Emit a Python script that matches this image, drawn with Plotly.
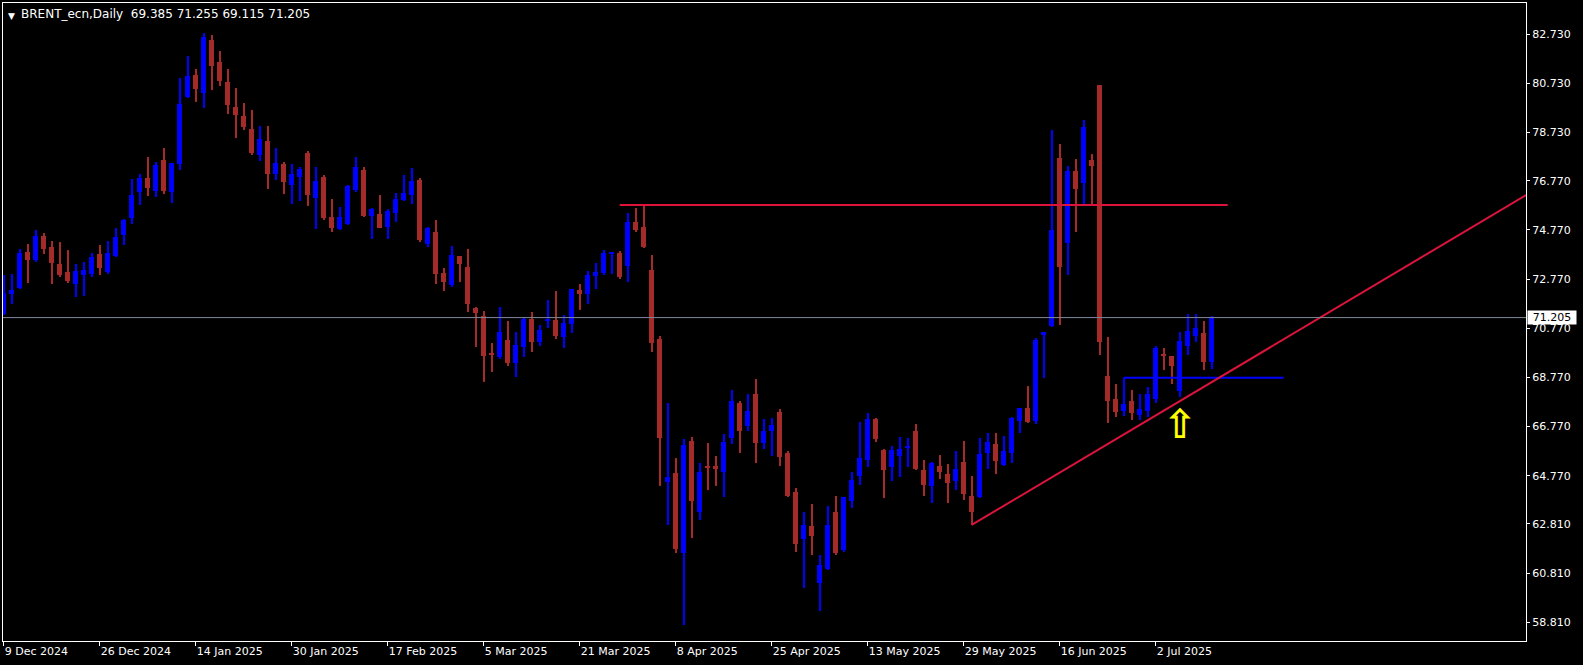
import plotly.graph_objects as go

# ---------------- data ----------------
opens = [71.35, 72.18, 72.42, 73.87, 73.56, 74.52, 74.08, 73.39, 73.06, 72.59,
         72.94, 72.99, 73.79, 73.07, 73.72, 74.58, 75.27, 76.33, 76.88, 76.37,
         77.62, 76.33, 77.47, 80.19, 81.07, 80.33, 82.50, 81.60, 80.79, 79.77,
         79.41, 78.88, 77.83, 78.39, 77.06, 77.45, 76.61, 76.94, 77.90, 76.08,
         76.93, 75.30, 74.81, 75.03, 76.41, 77.21, 75.35, 75.42, 74.90, 75.47,
         76.00, 76.19, 76.80, 74.21, 74.69, 73.02, 72.54, 73.71, 73.26, 71.61,
         71.27, 69.74, 69.62, 70.29, 69.37, 70.02, 71.15, 70.23, 71.07, 71.11,
         70.43, 70.96, 72.33, 72.18, 72.91, 73.03, 73.81, 73.83, 73.32, 75.09,
         74.89, 73.14, 70.33, 64.53, 64.88, 61.64, 66.18, 63.30, 65.17, 65.17,
         64.92, 66.31, 67.73, 66.79, 68.10, 66.10, 66.59, 67.36, 65.70, 64.11,
         62.20, 62.73, 60.41, 60.98, 63.30, 61.75, 63.74, 64.76, 65.41, 67.08,
         65.82, 65.13, 65.57, 65.91, 66.59, 65.00, 64.37, 65.17, 64.84, 64.56,
         65.33, 63.95, 63.92, 65.71, 66.08, 65.22, 65.71, 67.01, 67.53, 67.01,
         70.51, 70.88, 77.70, 74.22, 77.17, 76.69, 77.62, 80.67, 68.83, 67.88,
         67.42, 67.81, 67.24, 67.42, 67.89, 69.72, 69.64, 68.23, 70.06, 70.47,
         70.58, 69.385]
highs = [72.94, 72.98, 73.98, 74.20, 74.77, 74.65, 74.32, 74.28, 73.96, 73.39,
         73.47, 73.83, 74.16, 74.32, 74.85, 75.22, 76.84, 77.05, 77.74, 77.54,
         78.10, 77.49, 80.95, 81.85, 81.32, 82.78, 82.70, 82.05, 81.32, 80.55,
         79.94, 79.65, 79.00, 79.00, 78.10, 77.54, 77.45, 77.33, 77.98, 77.33,
         77.01, 76.03, 75.70, 76.60, 77.74, 77.33, 75.66, 76.19, 75.62, 76.27,
         77.01, 77.29, 76.88, 74.89, 75.18, 73.22, 74.12, 73.73, 74.00, 71.64,
         71.47, 70.17, 71.64, 71.07, 70.63, 71.24, 71.43, 70.90, 71.92, 72.29,
         71.31, 72.37, 72.57, 73.10, 73.43, 73.96, 73.83, 73.91, 75.46, 75.66,
         75.79, 73.75, 70.46, 67.73, 65.49, 66.27, 66.35, 65.29, 66.10, 65.57,
         66.47, 68.26, 67.81, 68.10, 68.71, 67.08, 67.12, 67.49, 65.77, 64.27,
         63.30, 63.62, 61.55, 63.54, 63.95, 63.91, 64.92, 66.96, 67.31, 67.10,
         65.84, 65.98, 66.35, 66.31, 66.88, 65.41, 65.33, 65.61, 65.26, 65.77,
         66.18, 64.76, 66.32, 66.50, 66.51, 66.39, 67.17, 67.54, 68.42, 70.36,
         70.62, 78.84, 78.27, 77.37, 77.66, 79.24, 77.86, 80.67, 70.43, 68.50,
         68.76, 68.26, 68.10, 68.39, 70.05, 69.97, 69.66, 70.62, 71.35, 71.35,
         71.07, 71.255]
lows = [71.30, 71.77, 72.38, 72.63, 73.48, 73.81, 72.59, 72.87, 72.63, 72.06,
        72.10, 72.87, 72.95, 72.99, 73.68, 74.17, 75.03, 75.80, 76.17, 76.13,
        76.25, 75.88, 77.22, 80.15, 79.99, 79.75, 80.48, 80.64, 79.50, 78.53,
        78.85, 77.83, 77.59, 76.45, 76.82, 76.25, 75.84, 75.96, 75.76, 74.82,
        75.19, 74.70, 74.75, 74.99, 76.33, 75.30, 74.40, 74.83, 74.40, 75.11,
        75.95, 75.84, 74.29, 74.08, 72.59, 72.30, 72.46, 72.67, 71.45, 70.02,
        68.60, 69.00, 69.53, 69.25, 68.80, 69.62, 69.82, 70.06, 70.80, 70.35,
        69.98, 70.59, 71.53, 71.77, 72.38, 72.95, 72.99, 72.79, 72.67, 74.70,
        74.05, 69.82, 64.35, 62.78, 61.61, 58.70, 62.24, 62.97, 64.19, 64.35,
        63.91, 66.06, 65.70, 66.59, 65.29, 65.86, 65.57, 65.17, 63.90, 61.68,
        60.22, 61.55, 59.27, 60.94, 61.55, 61.68, 63.47, 64.39, 65.13, 66.16,
        63.87, 64.57, 64.72, 65.13, 65.00, 63.95, 63.66, 64.64, 63.66, 64.19,
        63.78, 62.77, 63.88, 65.06, 64.83, 65.15, 65.30, 66.50, 66.90, 66.86,
        68.73, 70.84, 70.92, 72.92, 74.70, 75.83, 75.74, 69.67, 66.93, 67.17,
        67.21, 67.04, 67.04, 67.17, 67.74, 69.07, 68.50, 67.99, 69.70, 70.23,
        69.09, 69.115]
closes = [72.19, 72.33, 73.83, 73.56, 74.52, 74.01, 73.44, 72.94, 72.71, 73.10,
          73.14, 73.67, 73.24, 73.83, 74.48, 75.18, 76.19, 76.88, 76.49, 77.41,
          76.37, 77.49, 79.90, 81.03, 80.52, 82.62, 81.45, 80.84, 79.87, 79.46,
          78.97, 77.91, 78.47, 77.06, 77.49, 76.74, 77.05, 77.25, 76.21, 76.76,
          75.27, 74.86, 75.30, 76.56, 77.33, 75.35, 75.62, 74.86, 75.54, 76.03,
          76.27, 76.76, 74.37, 74.85, 72.99, 72.67, 73.75, 73.40, 71.77, 71.41,
          69.66, 69.70, 70.63, 69.37, 70.09, 71.15, 70.23, 70.70, 71.11, 70.47,
          70.98, 72.37, 72.18, 72.94, 73.06, 73.83, 73.83, 72.87, 75.09, 74.78,
          74.09, 70.18, 66.31, 64.72, 61.79, 66.02, 63.74, 64.92, 65.09, 65.04,
          66.14, 67.81, 66.59, 67.40, 66.10, 66.59, 66.83, 65.53, 63.95, 61.99,
          62.77, 62.32, 61.14, 62.77, 61.64, 63.91, 64.60, 65.49, 67.08, 66.27,
          65.00, 65.82, 65.86, 65.94, 65.04, 64.39, 65.29, 64.92, 64.48, 65.04,
          64.03, 63.30, 65.67, 66.14, 65.38, 65.76, 67.12, 67.53, 66.97, 70.29,
          70.62, 74.77, 73.25, 77.17, 76.45, 78.96, 77.39, 70.23, 67.82, 67.38,
          67.69, 67.34, 67.49, 68.10, 69.97, 69.66, 69.25, 70.25, 70.66, 70.79,
          69.41, 71.205]

tick_idx = [0, 12, 24, 36, 48, 60, 72, 84, 96, 108, 120, 132, 144]
tick_text = ["9 Dec 2024", "26 Dec 2024", "14 Jan 2025", "30 Jan 2025",
             "17 Feb 2025", "5 Mar 2025", "21 Mar 2025", "8 Apr 2025",
             "25 Apr 2025", "13 May 2025", "29 May 2025", "16 Jun 2025",
             "2 Jul 2025"]
price_ticks = [58.81, 60.81, 62.81, 64.77, 66.77, 68.77, 70.77, 72.77,
               74.77, 76.77, 78.73, 80.73, 82.73]

symbol_title = "BRENT_ecn,Daily"
last_ohlc = [69.385, 71.255, 69.115, 71.205]
last_price = 71.205

resistance_idx = [77, 153]
resistance_level = 75.79
support_idx = [140, 160]
support_level = 68.76
trend_idx = [121, 190.3]
trend_price = [62.77, 76.19]
arrow_idx = 147
arrow_price = 67.65

# ---------------- styling ----------------
UP = "#0000FF"
DOWN = "#A52A2A"
FONT = "DejaVu Sans"
X_RANGE = [-0.0875, 190.29]
Y_RANGE = [58.047, 84.003]

idx = list(range(len(opens)))
colors = [UP if c >= o else DOWN for o, c in zip(opens, closes)]
body_base = [min(o, c) for o, c in zip(opens, closes)]
body_h = [max(abs(c - o), 0.045) for o, c in zip(opens, closes)]
wick_h = [h - l for h, l in zip(highs, lows)]

fig = go.Figure()
fig.add_trace(go.Bar(x=idx, y=wick_h, base=lows, width=0.14,
                     marker=dict(color=colors, line=dict(width=0)),
                     hoverinfo="skip", showlegend=False))
fig.add_trace(go.Bar(x=idx, y=body_h, base=body_base, width=0.62,
                     marker=dict(color=colors, line=dict(width=0)),
                     hoverinfo="skip", showlegend=False))

# analysis lines
fig.add_trace(go.Scatter(x=resistance_idx, y=[resistance_level] * 2, mode="lines",
                         line=dict(color="#DC143C", width=2), hoverinfo="skip",
                         showlegend=False))
fig.add_trace(go.Scatter(x=support_idx, y=[support_level] * 2, mode="lines",
                         line=dict(color="#0000FF", width=2), hoverinfo="skip",
                         showlegend=False))
fig.add_trace(go.Scatter(x=trend_idx, y=trend_price, mode="lines",
                         line=dict(color="#DC143C", width=2), hoverinfo="skip",
                         showlegend=False))

# bid line
fig.add_shape(type="line", xref="paper", x0=0, x1=1, yref="y",
              y0=last_price, y1=last_price, line=dict(color="#80889a", width=1))

fig.add_annotation(x=arrow_idx, y=arrow_price, xref="x", yref="y", text="<b>⇧</b>",
                   showarrow=False, yanchor="top", xanchor="center", yshift=6,
                   font=dict(family=FONT, size=40, color="#FFFF00"))

fig.add_annotation(xref="paper", yref="y", x=1, y=last_price, xanchor="left",
                   xshift=1, text=f"{last_price:.3f}", showarrow=False,
                   bgcolor="#FFFFFF", borderpad=0, width=48, height=13,
                   align="center",
                   font=dict(family=FONT, size=11, color="#000000"))

fig.add_annotation(xref="paper", yref="paper", x=0, y=1, xanchor="left",
                   yanchor="top", xshift=3, yshift=-6, text="▼", showarrow=False,
                   font=dict(family=FONT, size=9, color="#FFFFFF"))
fig.add_annotation(xref="paper", yref="paper", x=0, y=1, xanchor="left",
                   yanchor="top", xshift=16, yshift=-2,
                   text=symbol_title + "  " + " ".join(f"{v:.3f}" for v in last_ohlc),
                   showarrow=False,
                   font=dict(family=FONT, size=12, color="#FFFFFF"))

fig.update_layout(
    width=1583, height=665,
    margin=dict(l=3, r=57, t=3, b=24, pad=0, autoexpand=False),
    paper_bgcolor="#000000", plot_bgcolor="#000000",
    barmode="overlay", bargap=0,
    showlegend=False, hovermode=False,
    xaxis=dict(range=X_RANGE, showgrid=False, zeroline=False, automargin=False,
               showline=True, linecolor="#FFFFFF", linewidth=1, mirror=True,
               ticks="outside", ticklen=4, tickcolor="#FFFFFF",
               tickvals=tick_idx, ticktext=tick_text,
               ticklabelposition="outside right",
               tickfont=dict(family=FONT, size=11, color="#FFFFFF")),
    yaxis=dict(range=Y_RANGE, side="right", showgrid=False, zeroline=False,
               automargin=False,
               showline=True, linecolor="#FFFFFF", linewidth=1, mirror=True,
               ticks="outside", ticklen=3, tickcolor="#FFFFFF",
               tickvals=price_ticks, ticktext=[f"{v:.3f}" for v in price_ticks],
               tickfont=dict(family=FONT, size=11, color="#FFFFFF")),
)

fig.write_html("out.html", config={"displayModeBar": False},
               post_script="document.body.style.margin='0';"
                           "document.body.style.background='#000';"
                           "document.body.style.overflow='hidden';")
